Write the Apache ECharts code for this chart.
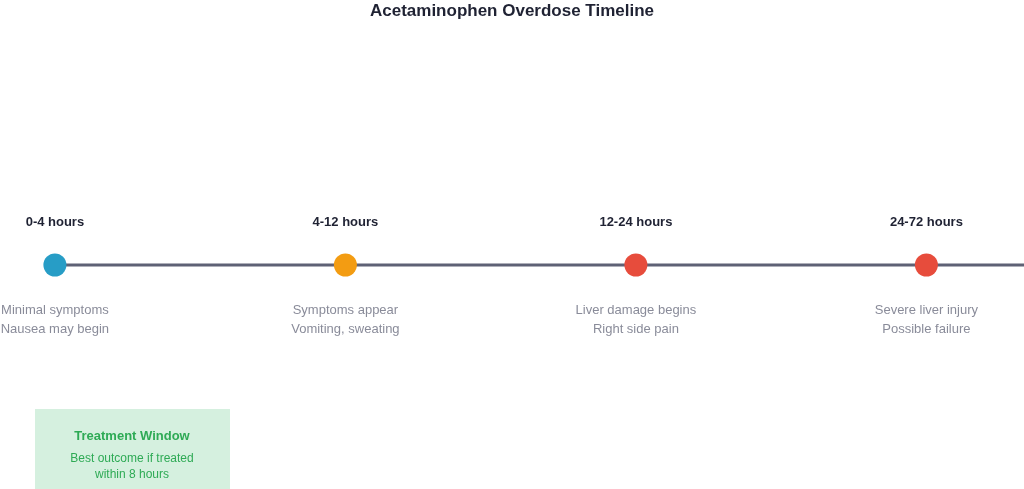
<!DOCTYPE html>
<html>
<head>
<meta charset="utf-8">
<script src="https://cdn.jsdelivr.net/npm/echarts@6/dist/echarts.min.js"></script>
<style>html,body{margin:0;padding:0;background:#fff}#chart{width:1024px;height:489px}</style>
</head>
<body>
<div id="chart"></div>
<script>
var stages = ['0-4 hours', '4-12 hours', '12-24 hours', '24-72 hours'];
var notes = ['Minimal symptoms\nNausea may begin', 'Symptoms appear\nVomiting, sweating', 'Liver damage begins\nRight side pain', 'Severe liver injury\nPossible failure'];
var colors = ['#279dc6', '#f39c12', '#e74c3c', '#e74c3c'];

var myChart = echarts.init(document.getElementById('chart'));
var xMin = -0.189, xMax = 3.336;
var font = 'Liberation Sans';

var points = stages.map(function(s, i) {
	return { value: [i, 0], name: s, itemStyle: { color: colors[i], opacity: 1 } };
});

option = {
	animation: false,
	title: {
		text: 'Acetaminophen Overdose Timeline',
		left: 'center',
		top: -2,
		textStyle: { fontSize: 17, fontWeight: 'bold', color: '#1f2233', fontFamily: font }
	},
	grid: { left: 0, right: 0, top: 41, bottom: 0 },
	xAxis: { type: 'value', min: xMin, max: xMax, show: false },
	yAxis: { type: 'value', min: -1, max: 1, show: false },
	series: [{
			type: 'line',
			data: [[0, 0], [xMax, 0]],
			symbol: 'none',
			lineStyle: { color: '#5e6175', width: 3 },
			z: 1
		},
		{
			type: 'scatter',
			symbolSize: 23,
			data: points,
			z: 3,
			label: {
				show: true,
				position: 'top',
				distance: 25,
				formatter: function(p) { return stages[p.dataIndex]; },
				fontSize: 13,
				fontWeight: 'bold',
				color: '#1f2233',
				fontFamily: font
			}
		},
		{
			type: 'scatter',
			symbolSize: 23,
			itemStyle: { color: 'rgba(0,0,0,0)' },
			data: stages.map(function(s, i) { return [i, 0]; }),
			z: 4,
			label: {
				show: true,
				position: 'bottom',
				distance: 24,
				formatter: function(p) { return notes[p.dataIndex]; },
				fontSize: 13,
				lineHeight: 19,
				color: '#6b6e80',
				fontFamily: font
			}
		}
	],
	graphic: [{
			type: 'rect',
			shape: { x: 35, y: 409, width: 195, height: 80 },
			style: { fill: '#d5f0df' }
		},
		{
			type: 'text',
			x: 132, y: 436,
			style: { text: 'Treatment Window', fill: '#2eaa55', font: 'bold 13px "Liberation Sans"', textAlign: 'center', textVerticalAlign: 'middle' }
		},
		{
			type: 'text',
			x: 132, y: 467,
			style: { text: 'Best outcome if treated\nwithin 8 hours', fill: '#2eaa55', font: '12px "Liberation Sans"', lineHeight: 16, textAlign: 'center', textVerticalAlign: 'middle' }
		}
	]
};
myChart.setOption(option, true);
</script>
</body>
</html>
